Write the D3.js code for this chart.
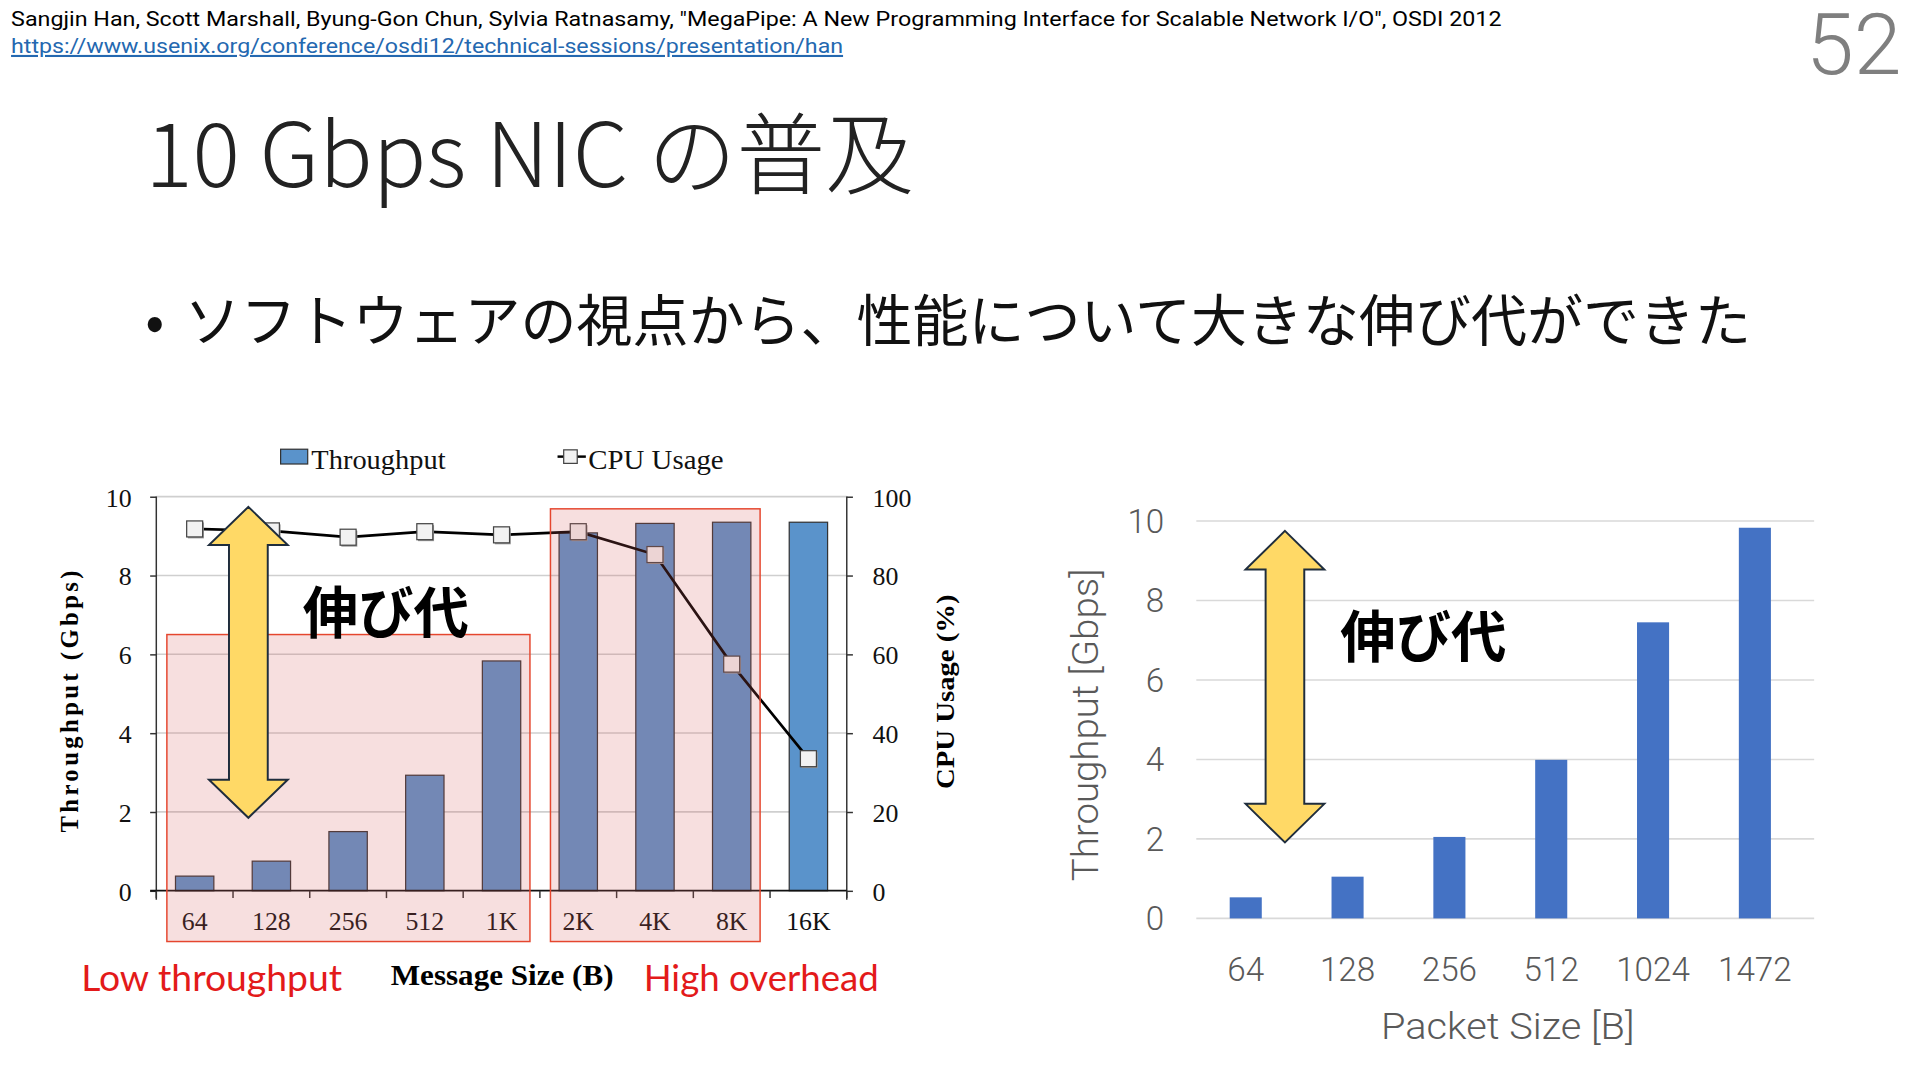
<!DOCTYPE html>
<html>
<head>
<meta charset="utf-8">
<script src="https://cdn.jsdelivr.net/npm/d3@7"></script>
<style>
  html, body { margin: 0; padding: 0; background: #fff; }
  svg { display: block; }
</style>
</head>
<body>
<svg id="slide" width="1920" height="1080" viewBox="0 0 1560 877.5"></svg>
<script>
// left chart data (MegaPipe paper figure)
const msgSizes = ["64", "128", "256", "512", "1K", "2K", "4K", "8K", "16K"];
const throughput = [0.37, 0.75, 1.5, 2.93, 5.83, 9.08, 9.32, 9.35, 9.35];
const cpuUsage = [91.8, 91.3, 89.7, 91.1, 90.3, 91.1, 85.3, 57.5, 33.5];
const gbpsTicks = [0, 2, 4, 6, 8, 10];
const cpuTicks = [0, 20, 40, 60, 80, 100];

// right chart data
const packetSizes = ["64", "128", "256", "512", "1024", "1472"];
const packetThroughput = [0.53, 1.05, 2.05, 3.99, 7.45, 9.83];
const packetTicks = [0, 2, 4, 6, 8, 10];

// highlighted category groups on the left chart
const groups = [
    { from: "64", to: "1K", top: 6.5 },
    { from: "2K", to: "8K", top: 9.69 }
];

const svg = d3.select("#slide");
const serif = "'Liberation Serif', 'DejaVu Serif', serif";
const cjk = "'Noto Sans CJK JP', 'Noto Sans', sans-serif";
const light = "Roboto, 'Noto Sans', sans-serif";

// ---------- header ----------
svg.append("text")
    .attr("x", 9).attr("y", 21)
    .attr("font-family", "'Liberation Sans Narrow', 'Roboto', sans-serif")
    .attr("font-size", 17)
    .attr("textLength", 1211).attr("lengthAdjust", "spacingAndGlyphs")
    .text("Sangjin Han, Scott Marshall, Byung-Gon Chun, Sylvia Ratnasamy, \"MegaPipe: A New Programming Interface for Scalable Network I/O\", OSDI 2012");

svg.append("text")
    .attr("x", 9).attr("y", 43)
    .attr("font-family", "'Liberation Sans Narrow', 'Roboto', sans-serif")
    .attr("font-size", 17)
    .attr("fill", "#2468B0")
    .attr("text-decoration", "underline")
    .attr("textLength", 676).attr("lengthAdjust", "spacingAndGlyphs")
    .text("https://www.usenix.org/conference/osdi12/technical-sessions/presentation/han");

svg.append("text")
    .attr("x", 1545).attr("y", 60)
    .attr("text-anchor", "end")
    .attr("font-family", light).attr("font-weight", 300)
    .attr("font-size", 70).attr("fill", "#7F7F7F")
    .text("52");

svg.append("text")
    .attr("x", 118).attr("y", 152)
    .attr("font-family", cjk).attr("font-weight", 300)
    .attr("font-size", 72).attr("fill", "#222")
    .text("10 Gbps NIC の普及");

svg.append("text")
    .attr("x", 118).attr("y", 277)
    .attr("font-family", cjk).attr("font-size", 45.5).attr("fill", "#111")
    .text("•");
svg.append("text")
    .attr("x", 150).attr("y", 277)
    .attr("font-family", cjk).attr("font-size", 45.5).attr("fill", "#111")
    .text("ソフトウェアの視点から、性能について大きな伸び代ができた");

// ---------- arrow helper ----------
function doubleArrow(cx, top, bottom, headW, shaftW, headLen) {
    const p = d3.path();
    p.moveTo(cx, top);
    p.lineTo(cx + headW / 2, top + headLen);
    p.lineTo(cx + shaftW / 2, top + headLen);
    p.lineTo(cx + shaftW / 2, bottom - headLen);
    p.lineTo(cx + headW / 2, bottom - headLen);
    p.lineTo(cx, bottom);
    p.lineTo(cx - headW / 2, bottom - headLen);
    p.lineTo(cx - shaftW / 2, bottom - headLen);
    p.lineTo(cx - shaftW / 2, top + headLen);
    p.lineTo(cx - headW / 2, top + headLen);
    p.closePath();
    return p.toString();
}

// ---------- left chart ----------
const L = svg.append("g");
const xL = d3.scaleBand().domain(msgSizes).range([127, 688]).paddingInner(0.5).paddingOuter(0.25);
const yL = d3.scaleLinear().domain([0, 10]).range([723.7, 403.5]);
const yCpu = d3.scaleLinear().domain([0, 100]).range([723.7, 403.5]);

L.selectAll("line.grid")
    .data(gbpsTicks.filter(d => d > 0))
    .join("line")
    .attr("class", "grid")
    .attr("x1", 127).attr("x2", 688)
    .attr("y1", d => yL(d)).attr("y2", d => yL(d))
    .attr("stroke", "#CFCFCF").attr("stroke-width", 1.3);

L.selectAll("rect.bar")
    .data(throughput)
    .join("rect")
    .attr("class", "bar")
    .attr("x", (d, i) => xL(msgSizes[i]))
    .attr("y", d => yL(d))
    .attr("width", xL.bandwidth())
    .attr("height", d => yL(0) - yL(d))
    .attr("fill", "#5A93CB")
    .attr("stroke", "#333").attr("stroke-width", 1);

// axes
const axisLeft = L.append("g")
    .attr("transform", "translate(127,0)")
    .call(d3.axisLeft(yL).tickValues(gbpsTicks).tickSize(5).tickPadding(15));
const axisRight = L.append("g")
    .attr("transform", "translate(688,0)")
    .call(d3.axisRight(yCpu).tickValues(cpuTicks).tickSize(5).tickPadding(16));
[axisLeft, axisRight].forEach(a => {
    a.select(".domain").attr("stroke", "#333").attr("stroke-width", 1.2)
        .attr("d", "M0,403.5V731");
    a.selectAll(".tick line").attr("stroke", "#333").attr("stroke-width", 1.2);
    a.selectAll(".tick text")
        .attr("font-family", serif).attr("font-size", 21).attr("fill", "#111")
        .attr("dy", "0.36em");
});

L.append("line")
    .attr("x1", 122).attr("x2", 688)
    .attr("y1", yL(0)).attr("y2", yL(0))
    .attr("stroke", "#111").attr("stroke-width", 1.4);

L.selectAll("line.xtick")
    .data(d3.range(msgSizes.length + 1))
    .join("line")
    .attr("class", "xtick")
    .attr("x1", i => 127 + i * xL.step()).attr("x2", i => 127 + i * xL.step())
    .attr("y1", yL(0)).attr("y2", yL(0) + 6)
    .attr("stroke", "#333").attr("stroke-width", 1.2);

L.selectAll("text.xlab")
    .data(msgSizes)
    .join("text")
    .attr("class", "xlab")
    .attr("x", d => xL(d) + xL.bandwidth() / 2)
    .attr("y", 756)
    .attr("text-anchor", "middle")
    .attr("font-family", serif).attr("font-size", 21).attr("fill", "#111")
    .text(d => d);

// CPU line
const cpuLine = d3.line()
    .x((d, i) => xL(msgSizes[i]) + xL.bandwidth() / 2)
    .y(d => yCpu(d));
L.append("path")
    .datum(cpuUsage)
    .attr("d", cpuLine)
    .attr("fill", "none")
    .attr("stroke", "#000").attr("stroke-width", 2.2);

L.selectAll("rect.shadow")
    .data(cpuUsage)
    .join("rect")
    .attr("class", "shadow")
    .attr("x", (d, i) => xL(msgSizes[i]) + xL.bandwidth() / 2 - 6.5 + 1)
    .attr("y", d => yCpu(d) - 6.5 + 1.2)
    .attr("width", 13).attr("height", 13)
    .attr("fill", "#9A9A9A");
L.selectAll("rect.marker")
    .data(cpuUsage)
    .join("rect")
    .attr("class", "marker")
    .attr("x", (d, i) => xL(msgSizes[i]) + xL.bandwidth() / 2 - 6.5)
    .attr("y", d => yCpu(d) - 6.5)
    .attr("width", 13).attr("height", 13)
    .attr("fill", "#F2F2F2")
    .attr("stroke", "#444").attr("stroke-width", 1);

// highlight boxes
L.selectAll("rect.group")
    .data(groups)
    .join("rect")
    .attr("class", "group")
    .attr("x", d => xL(d.from) - 7)
    .attr("y", d => yL(d.top))
    .attr("width", d => xL(d.to) + xL.bandwidth() + 7.5 - (xL(d.from) - 7))
    .attr("height", d => 765 - yL(d.top))
    .attr("fill", "rgba(216, 96, 96, 0.2)")
    .attr("stroke", "#E5462E").attr("stroke-width", 1.2);

// legend
L.append("rect")
    .attr("x", 228).attr("y", 365).attr("width", 22).attr("height", 12)
    .attr("fill", "#5A93CB").attr("stroke", "#333").attr("stroke-width", 1);
L.append("text")
    .attr("x", 253).attr("y", 381)
    .attr("font-family", serif).attr("font-size", 22).attr("fill", "#111")
    .attr("textLength", 109).attr("lengthAdjust", "spacingAndGlyphs")
    .text("Throughput");
L.append("line")
    .attr("x1", 453).attr("x2", 476).attr("y1", 371).attr("y2", 371)
    .attr("stroke", "#000").attr("stroke-width", 2);
L.append("rect")
    .attr("x", 458).attr("y", 365.5).attr("width", 11).attr("height", 11)
    .attr("fill", "#F2F2F2").attr("stroke", "#444").attr("stroke-width", 1);
L.append("text")
    .attr("x", 478).attr("y", 381)
    .attr("font-family", serif).attr("font-size", 22).attr("fill", "#111")
    .attr("textLength", 110).attr("lengthAdjust", "spacingAndGlyphs")
    .text("CPU Usage");

// axis titles
L.append("text")
    .attr("transform", "translate(63,570) rotate(-90)")
    .attr("text-anchor", "middle")
    .attr("font-family", serif).attr("font-weight", "bold").attr("font-size", 20)
    .attr("textLength", 213).attr("lengthAdjust", "spacing")
    .text("Throughput (Gbps)");
L.append("text")
    .attr("transform", "translate(775,562) rotate(-90)")
    .attr("text-anchor", "middle")
    .attr("font-family", serif).attr("font-weight", "bold").attr("font-size", 21)
    .attr("textLength", 158).attr("lengthAdjust", "spacingAndGlyphs")
    .text("CPU Usage (%)");
L.append("text")
    .attr("x", 408).attr("y", 800)
    .attr("text-anchor", "middle")
    .attr("font-family", serif).attr("font-weight", "bold").attr("font-size", 24)
    .attr("textLength", 181).attr("lengthAdjust", "spacingAndGlyphs")
    .text("Message Size (B)");

L.append("text")
    .attr("x", 66).attr("y", 805)
    .attr("font-family", "Lato, 'Open Sans', sans-serif").attr("font-size", 29.5)
    .attr("fill", "#E31A1A")
    .attr("textLength", 212).attr("lengthAdjust", "spacingAndGlyphs")
    .text("Low throughput");
L.append("text")
    .attr("x", 523).attr("y", 805)
    .attr("font-family", "Lato, 'Open Sans', sans-serif").attr("font-size", 29.5)
    .attr("fill", "#E31A1A")
    .attr("textLength", 191).attr("lengthAdjust", "spacingAndGlyphs")
    .text("High overhead");

// growth-room arrow
const leftArrowX = xL("64") + xL.bandwidth() / 2 + xL.step() * 0.7;
L.append("path")
    .attr("d", doubleArrow(leftArrowX, yL(9.74), yL(1.85), 64, 31.5, 31))
    .attr("fill", "#FFD966")
    .attr("stroke", "#1F2D3D").attr("stroke-width", 1.6)
    .attr("stroke-linejoin", "miter");
L.append("text")
    .attr("x", 246).attr("y", 514)
    .attr("font-family", cjk).attr("font-weight", "bold").attr("font-size", 45)
    .attr("fill", "#000")
    .text("伸び代");

// ---------- right chart ----------
const R = svg.append("g");
const xR = d3.scaleBand().domain(packetSizes).range([971, 1467]).paddingInner(0.685).paddingOuter(0.34);
const yR = d3.scaleLinear().domain([0, 10]).range([746.2, 423.3]);
const grey = "#595959";

R.selectAll("line.grid")
    .data(packetTicks)
    .join("line")
    .attr("class", "grid")
    .attr("x1", 972).attr("x2", 1474)
    .attr("y1", d => yR(d)).attr("y2", d => yR(d))
    .attr("stroke", "#D9D9D9").attr("stroke-width", 1.3);

R.selectAll("rect.bar")
    .data(packetThroughput)
    .join("rect")
    .attr("class", "bar")
    .attr("x", (d, i) => xR(packetSizes[i]))
    .attr("y", d => yR(d))
    .attr("width", xR.bandwidth())
    .attr("height", d => yR(0) - yR(d))
    .attr("fill", "#4472C4");

R.selectAll("text.ylab")
    .data(packetTicks)
    .join("text")
    .attr("class", "ylab")
    .attr("x", 946).attr("y", d => yR(d))
    .attr("dy", "0.36em")
    .attr("text-anchor", "end")
    .attr("font-family", light).attr("font-weight", 300).attr("font-size", 27)
    .attr("fill", grey)
    .text(d => d);

R.selectAll("text.xlab")
    .data(packetSizes)
    .join("text")
    .attr("class", "xlab")
    .attr("x", d => xR(d) + xR.bandwidth() / 2)
    .attr("y", 797)
    .attr("text-anchor", "middle")
    .attr("font-family", light).attr("font-weight", 300).attr("font-size", 27)
    .attr("fill", grey)
    .text(d => d);

R.append("text")
    .attr("x", 1225).attr("y", 844)
    .attr("text-anchor", "middle")
    .attr("font-family", light).attr("font-weight", 300).attr("font-size", 30)
    .attr("fill", grey)
    .attr("textLength", 206).attr("lengthAdjust", "spacingAndGlyphs")
    .text("Packet Size [B]");
R.append("text")
    .attr("transform", "translate(892,589) rotate(-90)")
    .attr("text-anchor", "middle")
    .attr("font-family", light).attr("font-weight", 300).attr("font-size", 30)
    .attr("fill", grey)
    .attr("textLength", 254).attr("lengthAdjust", "spacingAndGlyphs")
    .text("Throughput [Gbps]");

const rightArrowX = xR("64") + xR.bandwidth() / 2 + xR.step() * 0.385;
R.append("path")
    .attr("d", doubleArrow(rightArrowX, yR(9.75), yR(1.91), 64, 31.4, 31.4))
    .attr("fill", "#FFD966")
    .attr("stroke", "#1F2D3D").attr("stroke-width", 1.6);
R.append("text")
    .attr("x", 1089).attr("y", 534)
    .attr("font-family", cjk).attr("font-weight", "bold").attr("font-size", 45)
    .attr("fill", "#000")
    .text("伸び代");
</script>
</body>
</html>
